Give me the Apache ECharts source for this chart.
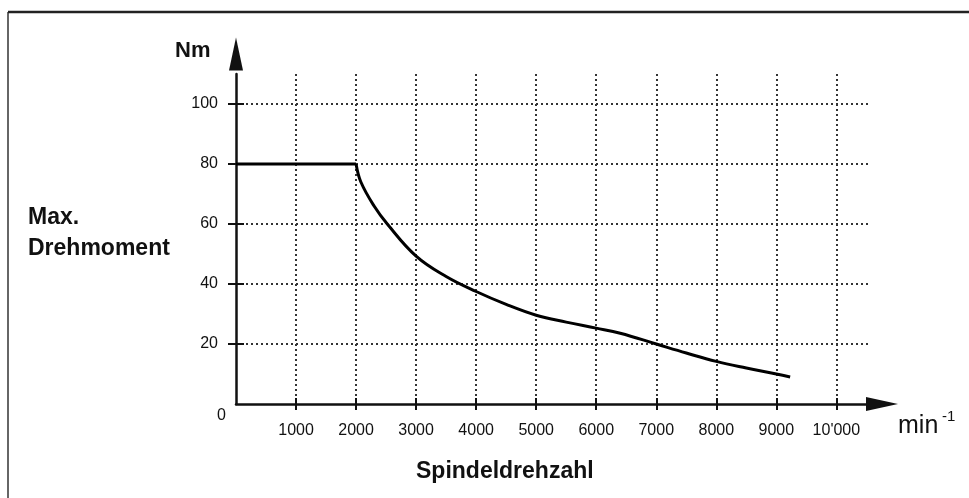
<!DOCTYPE html>
<html lang="de">
<head>
    <meta charset="UTF-8">
    <title>Max. Drehmoment</title>
    <style>
        html, body {
            margin: 0;
            padding: 0;
            background: #ffffff;
        }

        #chart {
            width: 969px;
            height: 498px;
        }
    </style>
</head>
<body>
<div id="chart"></div>
<script src="https://cdn.jsdelivr.net/npm/echarts@6/dist/echarts.min.js"></script>
<script>
    /*Daten*/
    var speed = [0, 2000, 2080, 2300, 2520, 3000, 3500, 4000, 4500, 5000, 5500, 6000, 6400, 7000, 7500, 8000, 8500, 9000, 9230];
    var torque = [80, 80, 74, 66, 60, 49.3, 42.5, 37.5, 33.2, 29.6, 27.3, 25.3, 23.6, 20, 17, 14.2, 12, 10, 9];
    var rpmTicks = [1000, 2000, 3000, 4000, 5000, 6000, 7000, 8000, 9000, 10000];
    var rpmTickLabels = ['1000', '2000', '3000', '4000', '5000', '6000', '7000', '8000', '9000', "10'000"];
    var nmTicks = [20, 40, 60, 80, 100];

    var points = speed.map(function (s, i) {
        return [s, torque[i]];
    });

    var font = '"Liberation Sans", Arial, sans-serif';
    var dots = {color: '#333', width: 2, type: [2, 3]};
    var tickStyle = {color: '#111', width: 2};

    var chart = echarts.init(document.getElementById('chart'));
    var option = {
        backgroundColor: '#ffffff',
        animation: false,
        grid: {left: 236, right: 99, top: 74, bottom: 94},
        xAxis: [
            {
                type: 'value', min: 0, max: 10560, interval: 1000, position: 'bottom',
                axisLine: {
                    lineStyle: {color: '#111', width: 2.5},
                    symbol: ['none', 'triangle'], symbolSize: [14, 32], symbolOffset: [0, 12]
                },
                axisTick: {customValues: rpmTicks, length: 6, lineStyle: tickStyle},
                axisLabel: {
                    customValues: rpmTicks, margin: 19, color: '#111', fontSize: 16, fontFamily: font,
                    formatter: function (v) {
                        return rpmTickLabels[rpmTicks.indexOf(v)];
                    }
                },
                splitLine: {show: true, showMinLine: true, showMaxLine: true, lineStyle: dots}
            },
            {
                // zweite Achse nur fuer die Striche nach oben
                type: 'value', min: 0, max: 10560, position: 'top',
                axisLine: {show: false, onZero: true},
                axisTick: {customValues: rpmTicks, inside: false, length: 6, lineStyle: tickStyle},
                axisLabel: {show: false},
                splitLine: {show: false}
            }
        ],
        yAxis: [
            {
                type: 'value', min: 0, max: 110, interval: 20, position: 'left',
                axisLine: {
                    show: true,
                    lineStyle: {color: '#111', width: 2.5},
                    symbol: ['none', 'triangle'], symbolSize: [14, 33], symbolOffset: [0, 20]
                },
                axisTick: {show: true, customValues: nmTicks, length: 8, lineStyle: tickStyle},
                axisLabel: {customValues: nmTicks, margin: 18, color: '#111', fontSize: 16, fontFamily: font},
                splitLine: {show: true, showMinLine: true, showMaxLine: true, lineStyle: dots}
            },
            {
                type: 'value', min: 0, max: 110, position: 'right',
                axisLine: {show: false, onZero: true},
                axisTick: {show: true, customValues: nmTicks, inside: false, length: 8, lineStyle: tickStyle},
                axisLabel: {show: false},
                splitLine: {show: false}
            }
        ],
        series: [
            {
                type: 'line',
                data: points.slice(0, 2),
                symbol: 'none',
                lineStyle: {color: '#000', width: 3}
            },
            {
                type: 'line',
                data: points.slice(1),
                symbol: 'none',
                smooth: 0.4,
                lineStyle: {color: '#000', width: 3}
            }
        ],
        graphic: [
            {type: 'line', shape: {x1: 8, y1: 12, x2: 8, y2: 498}, style: {stroke: '#333', lineWidth: 1.5}},
            {type: 'line', shape: {x1: 8, y1: 12, x2: 969, y2: 12}, style: {stroke: '#222', lineWidth: 2.5}},
            {
                type: 'text', left: 175, top: 40,
                style: {text: 'Nm', fontSize: 22, fontWeight: 'bold', fontFamily: font, fill: '#111'}
            },
            {
                type: 'text', left: 28, top: 202,
                style: {
                    text: 'Max.\nDrehmoment', fontSize: 23, lineHeight: 31,
                    fontWeight: 'bold', fontFamily: font, fill: '#111'
                }
            },
            {
                type: 'text', left: 217, top: 408,
                style: {text: '0', fontSize: 16, fontFamily: font, fill: '#111'}
            },
            {
                type: 'text', left: 416, top: 460,
                style: {text: 'Spindeldrehzahl', fontSize: 23, fontWeight: 'bold', fontFamily: font, fill: '#111'}
            },
            {
                type: 'text', left: 898, top: 414,
                style: {text: 'min', fontSize: 25, fontFamily: font, fill: '#111'}
            },
            {
                type: 'text', left: 942, top: 409,
                style: {text: '-1', fontSize: 15, fontFamily: font, fill: '#111'}
            }
        ]
    };
    chart.setOption(option);
</script>
</body>
</html>
